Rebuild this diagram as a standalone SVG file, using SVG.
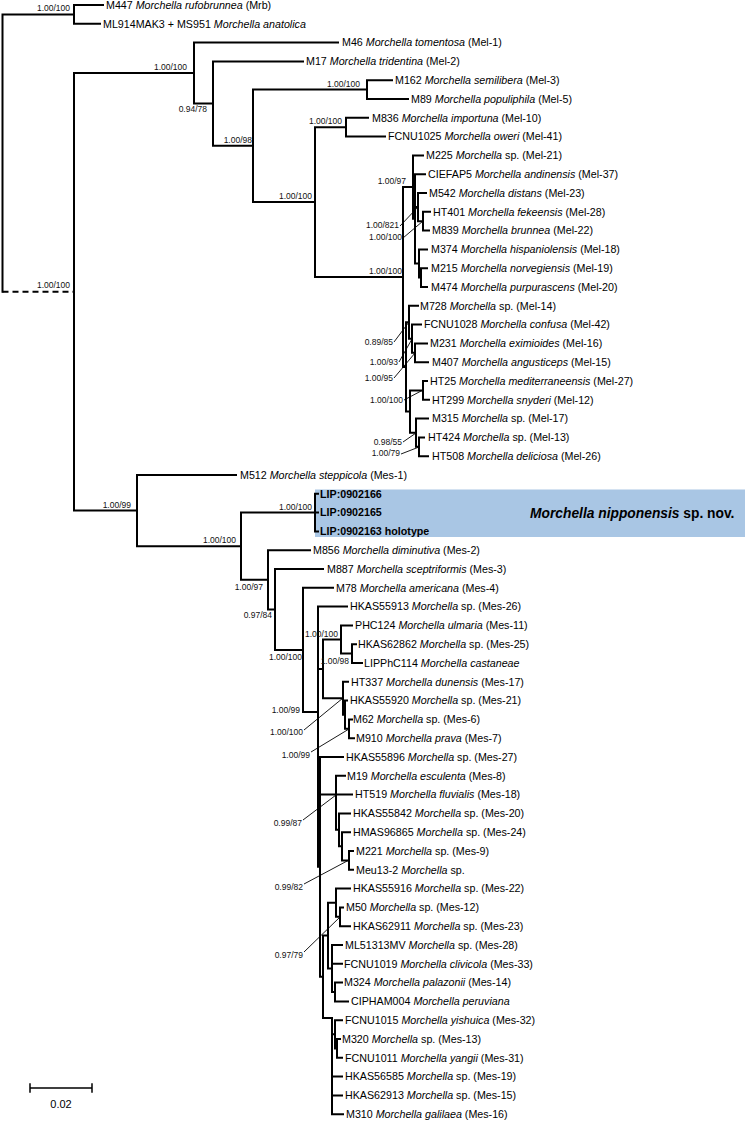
<svg xmlns="http://www.w3.org/2000/svg" width="746" height="1122" viewBox="0 0 746 1122">
<style>
.br{fill:none;stroke:#000;stroke-width:2;stroke-linecap:square}
.ds{fill:none;stroke:#000;stroke-width:2;stroke-dasharray:6,4}
.ld{fill:none;stroke:#000;stroke-width:0.9}
.lf{font-family:"Liberation Sans",Arial,sans-serif;font-size:10.7px;fill:#000}
.sp{font-family:"Liberation Sans",Arial,sans-serif;font-size:8.5px;fill:#111;text-anchor:end}
.i{font-style:italic}
.b{font-weight:bold}
</style>
<rect id="highlight" x="315" y="489.5" width="430" height="47.5" fill="#a9c6e4"/>
<g id="connectors">
<path class="br" d="M2.5 14.4V291.85M2.5 14.4H74M74 5V23.8M74 5H103M74 23.8H100"/>
<path class="ds" d="M2.5 291.85H74"/>
<path class="br" d="M74 73.1V510.6M74 73.1H194M74 510.6H137
M194 42.6V103.6M194 42.6H338M194 103.6H213
M213 61.4V145.85M213 61.4H303M213 145.85H253
M253 89.6V202.1M253 89.6H367M253 202.1H315
M367 80.2V99M367 80.2H392M367 99H408
M315 127.2V277M315 127.2H346M315 277H403
M346 117.8V136.6M346 117.8H368M346 136.6H385
M403 187.1V366.9M403 187.1H413M403 366.9H406
M413 155.4V218.85M413 155.4H423M413 218.85H415
M415 174.2V263.5M415 174.2H425M415 207.1H418M415 263.5H419
M418 193V221.2M418 193H426M418 221.2H423
M423 211.8V230.6M423 211.8H430M423 230.6H429
M419 249.4V277.6M419 249.4H427M419 277.6H421
M421 268.2V287M421 268.2H427M421 287H427
M406 322.25V411.55M406 322.25H409M406 411.55H410
M409 305.8V338.7M409 305.8H418M409 338.7H412
M412 324.6V352.8M412 324.6H421M412 352.8H415
M415 343.4V362.2M415 343.4H427M415 362.2H428
M410 390.4V432.7M410 390.4H423M410 432.7H416
M423 381V399.8M423 381H427M423 399.8H429
M416 418.6V446.8M416 418.6H428M416 446.8H419
M419 437.4V456.2M419 437.4H424M419 456.2H428
M137 475V546.2M137 475H236M137 546.2H241
M241 512.6V579.8M241 512.6H315M241 579.8H268
M315 493.8V531.4M315 493.8H318M315 512.6H318M315 531.4H318
M268 550.2V609.45M268 550.2H310M268 609.45H275
M275 569V649.9M275 569H323M275 649.9H303
M303 587.8V712M303 587.8H333M303 712H318
M318 606.6V866.75M318 606.6H347M318 668.9H323M318 866.75H320
M323 639.5V698.25M323 639.5H341M323 698.25H343
M341 625.4V653.6M341 625.4H352M341 653.6H352
M352 644.2V663M352 644.2H356M352 663H362
M343 681.8V714.7M343 681.8H348M343 714.7H345
M345 700.6V728.8M345 700.6H347M345 728.8H349
M349 719.4V738.2M349 719.4H352M349 738.2H354
M320 757V976.8M320 757H343M320 794.6H336M320 976.8H323
M336 775.8V829.85M336 775.8H345M336 794.6H352M336 829.85H339
M339 813.4V846.3M339 813.4H350M339 846.3H342
M342 832.2V860.4M342 832.2H350M342 860.4H349
M349 851V869.8M349 851H353M349 869.8H353
M323 935.6V1018M323 935.6H328M323 1018H332
M328 902.7V968.5M328 902.7H336M328 968.5H332
M336 888.6V916.8M336 888.6H350M336 916.8H340
M340 907.4V926.2M340 907.4H343M340 926.2H350
M332 945V992M332 945H342M332 963.8H342M332 992H335
M335 982.6V1001.4M335 982.6H342M335 1001.4H348
M332 1018V1114.2M332 1034.3H335M332 1076.6H342M332 1095.4H342M332 1114.2H343
M335 1020.2V1048.4M335 1020.2H342M335 1048.4H337
M337 1039V1057.8M337 1039H340M337 1057.8H342"/>
<path class="ld" d="M400 226L418 207M403 238L423 221M394 342L409 322M399 362L412 339M394 378L415 353M404 400L423 390M403 442L416 433M401 454L419 447
M304 730L343 698M311 752L349 729M303 820L336 795M304 884L349 860M304 952L340 917"/>
</g>
<g id="supports">
<text class="sp" x="70" y="11.4">1.00/100</text>
<text class="sp" x="70" y="288">1.00/100</text>
<text class="sp" x="187" y="70">1.00/100</text>
<text class="sp" x="207" y="112">0.94/78</text>
<text class="sp" x="252" y="142.8">1.00/98</text>
<text class="sp" x="360" y="86.6">1.00/100</text>
<text class="sp" x="312" y="199">1.00/100</text>
<text class="sp" x="342" y="124">1.00/100</text>
<text class="sp" x="402" y="274">1.00/100</text>
<text class="sp" x="406" y="184">1.00/97</text>
<text class="sp" x="399" y="228">1.00/821</text>
<text class="sp" x="402" y="240">1.00/100</text>
<text class="sp" x="393" y="345">0.89/85</text>
<text class="sp" x="398" y="365">1.00/93</text>
<text class="sp" x="393" y="381">1.00/95</text>
<text class="sp" x="403" y="403">1.00/100</text>
<text class="sp" x="402" y="445">0.98/55</text>
<text class="sp" x="400" y="456">1.00/79</text>
<text class="sp" x="131" y="507.6">1.00/99</text>
<text class="sp" x="236" y="543">1.00/100</text>
<text class="sp" x="312" y="509.6">1.00/100</text>
<text class="sp" x="263" y="590">1.00/97</text>
<text class="sp" x="272" y="618">0.97/84</text>
<text class="sp" x="302" y="660">1.00/100</text>
<text class="sp" x="300" y="713">1.00/99</text>
<text class="sp" x="338" y="636.5">1.00/100</text>
<text class="sp" x="349" y="664">1.00/98</text>
<text class="sp" x="303" y="735">1.00/100</text>
<text class="sp" x="310" y="758">1.00/99</text>
<text class="sp" x="302" y="826">0.99/87</text>
<text class="sp" x="303" y="890">0.99/82</text>
<text class="sp" x="303" y="958">0.97/79</text>
</g>
<g id="taxa" class="lf">
<g id="t0"><text x="106" y="8.8">M447 <tspan class="i">Morchella rufobrunnea</tspan> (Mrb)</text></g>
<g id="t1"><text x="103" y="27.6">ML914MAK3 + MS951 <tspan class="i">Morchella anatolica</tspan></text></g>
<g id="t2"><text x="342" y="46.4">M46 <tspan class="i">Morchella tomentosa</tspan> (Mel-1)</text></g>
<g id="t3"><text x="306" y="65.2">M17 <tspan class="i">Morchella tridentina</tspan> (Mel-2)</text></g>
<g id="t4"><text x="395" y="84">M162 <tspan class="i">Morchella semilibera</tspan> (Mel-3)</text></g>
<g id="t5"><text x="411" y="102.8">M89 <tspan class="i">Morchella populiphila</tspan> (Mel-5)</text></g>
<g id="t6"><text x="372" y="121.6">M836 <tspan class="i">Morchella importuna</tspan> (Mel-10)</text></g>
<g id="t7"><text x="388" y="140.4">FCNU1025 <tspan class="i">Morchella oweri</tspan> (Mel-41)</text></g>
<g id="t8"><text x="426" y="159.2">M225 <tspan class="i">Morchella</tspan> sp. (Mel-21)</text></g>
<g id="t9"><text x="428" y="178">CIEFAP5 <tspan class="i">Morchella andinensis</tspan> (Mel-37)</text></g>
<g id="t10"><text x="429" y="196.8">M542 <tspan class="i">Morchella distans</tspan> (Mel-23)</text></g>
<g id="t11"><text x="433" y="215.6">HT401 <tspan class="i">Morchella fekeensis</tspan> (Mel-28)</text></g>
<g id="t12"><text x="432" y="234.4">M839 <tspan class="i">Morchella brunnea</tspan> (Mel-22)</text></g>
<g id="t13"><text x="431" y="253.2">M374 <tspan class="i">Morchella hispaniolensis</tspan> (Mel-18)</text></g>
<g id="t14"><text x="431" y="272">M215 <tspan class="i">Morchella norvegiensis</tspan> (Mel-19)</text></g>
<g id="t15"><text x="431" y="290.8">M474 <tspan class="i">Morchella purpurascens</tspan> (Mel-20)</text></g>
<g id="t16"><text x="420" y="309.6">M728 <tspan class="i">Morchella</tspan> sp. (Mel-14)</text></g>
<g id="t17"><text x="424" y="328.4">FCNU1028 <tspan class="i">Morchella confusa</tspan> (Mel-42)</text></g>
<g id="t18"><text x="430" y="347.2">M231 <tspan class="i">Morchella eximioides</tspan> (Mel-16)</text></g>
<g id="t19"><text x="432" y="366">M407 <tspan class="i">Morchella angusticeps</tspan> (Mel-15)</text></g>
<g id="t20"><text x="430" y="384.8">HT25 <tspan class="i">Morchella mediterraneensis</tspan> (Mel-27)</text></g>
<g id="t21"><text x="432" y="403.6">HT299 <tspan class="i">Morchella snyderi</tspan> (Mel-12)</text></g>
<g id="t22"><text x="432" y="422.4">M315 <tspan class="i">Morchella</tspan> sp. (Mel-17)</text></g>
<g id="t23"><text x="428" y="441.2">HT424 <tspan class="i">Morchella</tspan> sp. (Mel-13)</text></g>
<g id="t24"><text x="432" y="460">HT508 <tspan class="i">Morchella deliciosa</tspan> (Mel-26)</text></g>
<g id="t25"><text x="240" y="478.8">M512 <tspan class="i">Morchella steppicola</tspan> (Mes-1)</text></g>
<g id="t26"><text class="b" x="320" y="497.6">LIP:0902166</text></g>
<g id="t27"><text class="b" x="320" y="516.4">LIP:0902165</text></g>
<g id="t28"><text class="b" x="320" y="535.2">LIP:0902163 holotype</text></g>
<g id="t29"><text x="313" y="554">M856 <tspan class="i">Morchella diminutiva</tspan> (Mes-2)</text></g>
<g id="t30"><text x="327" y="572.8">M887 <tspan class="i">Morchella sceptriformis</tspan> (Mes-3)</text></g>
<g id="t31"><text x="336" y="591.6">M78 <tspan class="i">Morchella americana</tspan> (Mes-4)</text></g>
<g id="t32"><text x="350" y="610.4">HKAS55913 <tspan class="i">Morchella</tspan> sp. (Mes-26)</text></g>
<g id="t33"><text x="355" y="629.2">PHC124 <tspan class="i">Morchella ulmaria</tspan> (Mes-11)</text></g>
<g id="t34"><text x="358" y="648">HKAS62862 <tspan class="i">Morchella</tspan> sp. (Mes-25)</text></g>
<g id="t35"><text x="364" y="666.8">LIPPhC114 <tspan class="i">Morchella castaneae</tspan></text></g>
<g id="t36"><text x="351" y="685.6">HT337 <tspan class="i">Morchella dunensis</tspan> (Mes-17)</text></g>
<g id="t37"><text x="350" y="704.4">HKAS55920 <tspan class="i">Morchella</tspan> sp. (Mes-21)</text></g>
<g id="t38"><text x="353" y="723.2">M62 <tspan class="i">Morchella</tspan> sp. (Mes-6)</text></g>
<g id="t39"><text x="356" y="742">M910 <tspan class="i">Morchella prava</tspan> (Mes-7)</text></g>
<g id="t40"><text x="346" y="760.8">HKAS55896 <tspan class="i">Morchella</tspan> sp. (Mes-27)</text></g>
<g id="t41"><text x="347" y="779.6">M19 <tspan class="i">Morchella esculenta</tspan> (Mes-8)</text></g>
<g id="t42"><text x="355" y="798.4">HT519 <tspan class="i">Morchella fluvialis</tspan> (Mes-18)</text></g>
<g id="t43"><text x="353" y="817.2">HKAS55842 <tspan class="i">Morchella</tspan> sp. (Mes-20)</text></g>
<g id="t44"><text x="353" y="836">HMAS96865 <tspan class="i">Morchella</tspan> sp. (Mes-24)</text></g>
<g id="t45"><text x="356" y="854.8">M221 <tspan class="i">Morchella</tspan> sp. (Mes-9)</text></g>
<g id="t46"><text x="356" y="873.6">Meu13-2 <tspan class="i">Morchella</tspan> sp.</text></g>
<g id="t47"><text x="353" y="892.4">HKAS55916 <tspan class="i">Morchella</tspan> sp. (Mes-22)</text></g>
<g id="t48"><text x="346" y="911.2">M50 <tspan class="i">Morchella</tspan> sp. (Mes-12)</text></g>
<g id="t49"><text x="353" y="930">HKAS62911 <tspan class="i">Morchella</tspan> sp. (Mes-23)</text></g>
<g id="t50"><text x="345" y="948.8">ML51313MV <tspan class="i">Morchella</tspan> sp. (Mes-28)</text></g>
<g id="t51"><text x="344" y="967.6">FCNU1019 <tspan class="i">Morchella clivicola</tspan> (Mes-33)</text></g>
<g id="t52"><text x="344" y="986.4">M324 <tspan class="i">Morchella palazonii</tspan> (Mes-14)</text></g>
<g id="t53"><text x="351" y="1005.2">CIPHAM004 <tspan class="i">Morchella peruviana</tspan></text></g>
<g id="t54"><text x="345" y="1024">FCNU1015 <tspan class="i">Morchella yishuica</tspan> (Mes-32)</text></g>
<g id="t55"><text x="342" y="1042.8">M320 <tspan class="i">Morchella</tspan> sp. (Mes-13)</text></g>
<g id="t56"><text x="345" y="1061.6">FCNU1011 <tspan class="i">Morchella yangii</tspan> (Mes-31)</text></g>
<g id="t57"><text x="345" y="1080.4">HKAS56585 <tspan class="i">Morchella</tspan> sp. (Mes-19)</text></g>
<g id="t58"><text x="345" y="1099.2">HKAS62913 <tspan class="i">Morchella</tspan> sp. (Mes-15)</text></g>
<g id="t59"><text x="346" y="1118">M310 <tspan class="i">Morchella galilaea</tspan> (Mes-16)</text></g>
</g>
<g id="species-label"><text x="530" y="518" font-family="'Liberation Sans',Arial,sans-serif" font-size="13.8" font-weight="bold" fill="#000"><tspan font-style="italic">Morchella nipponensis</tspan> sp. nov.</text></g>
<g id="scale-bar">
<path class="br" d="M30 1088H92M30 1084V1092M92 1084V1092" style="stroke-width:1.5"/>
<text x="61" y="1108" font-family="'Liberation Sans',Arial,sans-serif" font-size="11" text-anchor="middle" fill="#000">0.02</text>
</g>
</svg>
